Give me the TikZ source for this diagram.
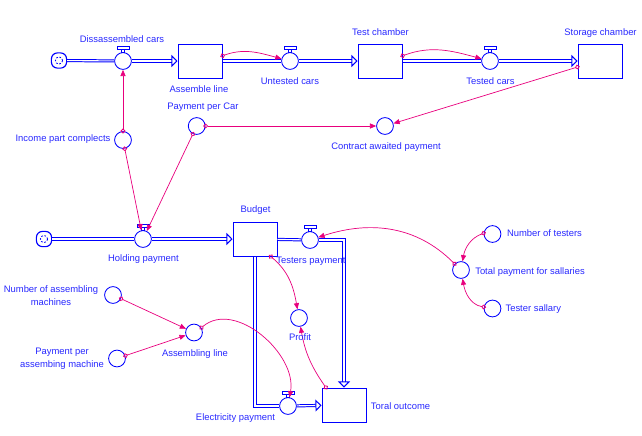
\documentclass[tikz,border=0pt]{standalone}
\usepackage{fontspec}
\setmainfont{Liberation Sans}
\usetikzlibrary{arrows.meta}
\definecolor{vblue}{RGB}{0,0,255}
\definecolor{vtext}{RGB}{40,40,255}
\definecolor{vlink}{RGB}{232,0,125}
\tikzset{
  lbl/.style={font=\fontsize{6.7}{9}\selectfont, text=vtext, inner sep=0pt, text height=4.7pt, text depth=0pt},
  lbltwo/.style={font=\fontsize{6.7}{9}\selectfont, text=vtext, inner sep=0pt, align=center},
  stock/.style={draw=vblue, line width=0.7pt, fill=white, minimum width=1.1cm, minimum height=0.85cm, inner sep=0pt},
  aux/.style={circle, draw=vblue, line width=0.6pt, fill=white, minimum size=0.42cm, inner sep=0pt},
  valve/.style={aux},
  cloud/.style={draw=vblue, line width=0.8pt, rounded corners=1.5mm, minimum size=0.38cm, inner sep=0pt,
    path picture={\draw[vblue, line width=0.6pt, dash pattern=on 1.2pt off 1.2pt] (path picture bounding box.center) circle (0.09cm);}},
  pipe/.style={draw=vblue, line width=0.7pt, double=white, double distance=0.8pt},
  flow/.style={pipe, -{Triangle[open, length=4.3pt, width=8.5pt]}},
  link/.style={vlink, line width=0.5pt, shorten <=-1.6pt,
    {Circle[open, length=3.4pt, line width=0.6pt]}-{Triangle[length=4.4pt, width=3.6pt]}},
}
\begin{document}
\begin{tikzpicture}[x=0.025cm, y=-0.025cm]
  \useasboundingbox (0,0) rectangle (642,435);
  % chaine des voitures
  \node[cloud] (src1) at (59,60.5) {};
  \node[valve] (dc) at (123,61) {};
  \node[stock] (al) at (200,61) {};
  \node[valve] (ut) at (290,61) {};
  \node[stock] (tc) at (380,61) {};
  \node[valve] (tdc) at (490,61) {};
  \node[stock] (sc) at (600,61) {};
  \node[aux] (ppc) at (196.7,126) {};
  \node[aux] (cap) at (385,126) {};
  \node[aux] (ipc) at (123,140) {};
  % budget
  \node[cloud] (src2) at (44,239) {};
  \node[valve] (hp) at (143,239) {};
  \node[stock] (bud) at (255,239) {};
  \node[valve] (tp) at (310,240) {};
  \node[stock] (tout) at (344,405) {};
  \node[valve] (ep) at (288,406) {};
  \node[aux] (profit) at (299,318) {};
  \node[aux] (nam) at (113,295) {};
  \node[aux] (ppam) at (117,358.5) {};
  \node[aux] (asl) at (194,332.5) {};
  \node[aux] (not) at (492.5,234) {};
  \node[aux] (tps) at (461,270) {};
  \node[aux] (ts) at (492.5,308.5) {};
  % robinets
  \foreach \v in {dc,ut,tdc,hp,tp,ep}{
    \draw[vblue, line width=0.6pt, fill=white] ([xshift=-0.04cm]\v.north) rectangle ([xshift=0.04cm,yshift=0.08cm]\v.north);
    \draw[vblue, line width=0.6pt, fill=white] ([xshift=-0.15cm,yshift=0.08cm]\v.north) rectangle ([xshift=0.15cm,yshift=0.14cm]\v.north);
  }
  % flux
  \draw[pipe] (src1) -- (dc);
  \draw[flow] (dc) -- (al);
  \draw[pipe] (al) -- (ut);
  \draw[flow] (ut) -- (tc);
  \draw[pipe] (tc) -- (tdc);
  \draw[flow] (tdc) -- (sc);
  \draw[pipe] (src2) -- (hp);
  \draw[flow] (hp) -- (bud);
  \draw[pipe] (bud) -- (tp);
  \draw[flow] (tp) -| (tout);
  \draw[pipe] (bud) |- (ep);
  \draw[flow] (ep) -- (tout);
  % liens
  \draw[link] (al.13) to[out=20,in=165] (ut);
  \draw[link] (tc.13) to[out=20,in=165] (tdc);
  \draw[link] (sc.-165) -- (cap);
  \draw[link] (ppc) -- (cap);
  \draw[link] (ipc) -- (dc);
  \draw[link] (ipc) -- (hp);
  \draw[link] (ppc) -- (hp);
  \draw[link] (bud.-48) to[out=-40,in=100] (profit);
  \draw[link] (tout.136) to[out=125,in=-80] (profit);
  \draw[link] (nam) -- (asl);
  \draw[link] (ppam) -- (asl);
  \draw[link] (asl.33) to[out=40,in=80] (ep);
  \draw[link] (not.175) to[out=200,in=80] (tps);
  \draw[link] (ts.170) to[out=170,in=-80] (tps);
  \draw[link] (tps.136) to[out=135,in=18] (tp);
  % textes
  \node[lbl] (dc-t) at (122,39.5) {Dissassembled cars};
  \node[lbl] (al-t) at (199,89) {Assemble line};
  \node[lbl] (ut-t) at (290,81) {Untested cars};
  \node[lbl] (tc-t) at (380.5,32) {Test chamber};
  \node[lbl] (tdc-t) at (490.5,81) {Tested cars};
  \node[lbl] (sc-t) at (600.5,32) {Storage chamber};
  \node[lbl] (ppc-t) at (203,106) {Payment per Car};
  \node[lbl] (cap-t) at (386,146) {Contract awaited payment};
  \node[lbl] (ipc-t) at (63,138) {Income part complects};
  \node[lbl] (hp-t) at (143.5,258.5) {Holding payment};
  \node[lbl] (bud-t) at (255.5,209.5) {Budget};
  \node[lbl] (tp-t) at (311,260.5) {Testers payment};
  \node[lbl] (tout-t) at (400.5,406) {Toral outcome};
  \node[lbl] (ep-t) at (235.5,417.5) {Electricity payment};
  \node[lbl] (profit-t) at (300,337) {Profit};
  \node[lbltwo] (nam-t) at (51,295.5) {Number of assembling\\machines};
  \node[lbltwo] (ppam-t) at (62,358.5) {Payment per\\assembing machine};
  \node[lbl] (asl-t) at (195,353) {Assembling line};
  \node[lbl] (not-t) at (544.5,233.5) {Number of testers};
  \node[lbl] (tps-t) at (530,271.5) {Total payment for sallaries};
  \node[lbl] (ts-t) at (533.3,307.7) {Tester sallary};
\end{tikzpicture}
\end{document}
